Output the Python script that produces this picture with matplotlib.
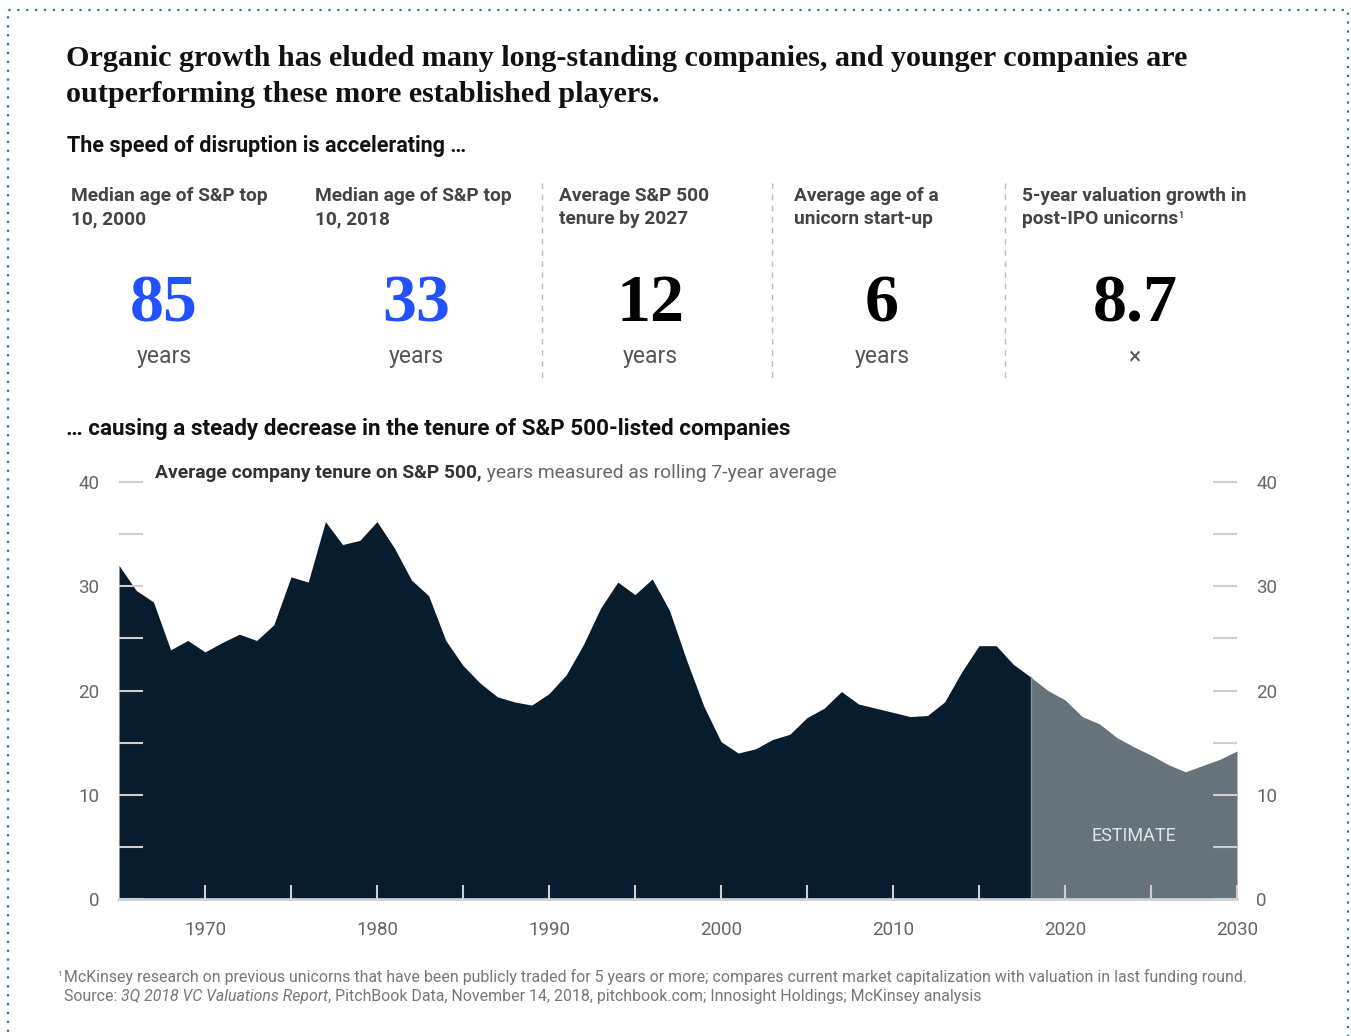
#!/usr/bin/env python3
"""McKinsey-style panel: speed of disruption stats + S&P 500 tenure area chart."""
import matplotlib
matplotlib.use("Agg")
import matplotlib.pyplot as plt
from matplotlib.patches import Rectangle

W, H = 1351, 1036

# --- data -----------------------------------------------------------------
years_hist = list(range(1965, 2019))
tenure_hist = [32.0, 29.6, 28.5, 23.9, 24.8, 23.7, 24.6, 25.4, 24.8, 26.3,
               30.9, 30.4, 36.2, 34.0, 34.4, 36.2, 33.7, 30.6, 29.1, 24.8,
               22.4, 20.7, 19.4, 18.9, 18.6, 19.7, 21.5, 24.4, 27.9, 30.4,
               29.2, 30.7, 27.7, 22.9, 18.5, 15.1, 14.0, 14.4, 15.3, 15.8,
               17.4, 18.3, 19.9, 18.7, 18.3, 17.9, 17.5, 17.6, 18.9, 21.8,
               24.3, 24.3, 22.5, 21.3]
years_est = list(range(2018, 2031))
tenure_est = [21.3, 20.0, 19.1, 17.5, 16.8, 15.5, 14.6, 13.8, 12.9, 12.2,
              12.8, 13.4, 14.2]

stat_headers = [("Median age of S&P top", "10, 2000"),
                ("Median age of S&P top", "10, 2018"),
                ("Average S&P 500", "tenure by 2027"),
                ("Average age of a", "unicorn start-up"),
                ("5-year valuation growth in", "post-IPO unicorns")]
stat_notes = ["", "", "", "", "1"]
stat_values = ["85", "33", "12", "6", "8.7"]
stat_units = ["years", "years", "years", "years", "\u00d7"]
stat_highlight = [True, True, False, False, False]

DARK = "#071c2c"
EST = "#67737b"
BLUE = "#2251ff"
GRID = "#cfcfcf"
SANS = ["Roboto", "DejaVu Sans"]
SERIF = ["Liberation Serif", "DejaVu Serif"]

plt.rcParams["font.family"] = SANS

fig = plt.figure(figsize=(W / 100, H / 100), dpi=100)


def px(x, y):
    return x / W, 1 - y / H


def chain(x, y, parts, **kw):
    """Write text pieces one after another on a baseline (pixel coords)."""
    r = fig.canvas.get_renderer()
    for s, style in parts:
        opts = dict(kw)
        opts.update(style)
        dy = opts.pop("dy", 0)
        t = fig.text(*px(x, y - dy), s, va="baseline", ha="left", **opts)
        x += t.get_window_extent(renderer=r).width


# dotted frame
fig.patches.append(Rectangle(px(8, 1060), (1348 - 8) / W, (1060 - 10) / H,
                             transform=fig.transFigure, fill=False,
                             ec="#1f77c4", lw=1.6, ls=(0, (1, 3))))

# headline
fig.text(*px(66, 66), "Organic growth has eluded many long-standing companies, "
         "and younger companies are", family=SERIF, fontsize=21.7, weight="bold",
         color="#111111", va="baseline")
fig.text(*px(66, 102), "outperforming these more established players.",
         family=SERIF, fontsize=21.7, weight="bold", color="#111111", va="baseline")

fig.text(*px(67, 152), "The speed of disruption is accelerating \u2026",
         fontsize=15.5, weight="bold", color="#111111", va="baseline")

# stat columns
col_x = [71, 315, 559, 794, 1022]
col_c = [164, 416, 650, 882, 1135]
for i, (hx, cx) in enumerate(zip(col_x, col_c)):
    l1, l2 = stat_headers[i]
    fig.text(*px(hx, 201), l1, fontsize=13.8, weight="bold", color="#444444",
             va="baseline")
    chain(hx, 224, [(l2, {}), (stat_notes[i], {"fontsize": 6.5, "dy": 6})],
          fontsize=13.8, weight="bold", color="#444444")
    fig.text(*px(cx, 321), stat_values[i], family=SERIF, fontsize=49,
             weight="bold", color=BLUE if stat_highlight[i] else "#000000",
             ha="center", va="baseline")
    fig.text(*px(cx, 357), stat_units[i], fontsize=16.5, color="#555555",
             ha="center", va="center")
for sx in (542, 772, 1005):
    fig.add_artist(plt.Line2D([sx / W, sx / W], [1 - 183 / H, 1 - 383 / H],
                              transform=fig.transFigure, color="#bbbbbb",
                              lw=1, ls=(0, (4, 4))))

fig.text(*px(66, 435), "\u2026 causing a steady decrease in the tenure of "
         "S&P 500-listed companies", fontsize=16.2, weight="bold",
         color="#111111", va="baseline")

# --- area chart -------------------------------------------------------------
ax = fig.add_axes([119 / W, 1 - 899 / H, (1237 - 119) / W, (899 - 482) / H])
ax.fill_between(years_hist, tenure_hist, 0, color=DARK, lw=0, zorder=1)
ax.fill_between(years_est, tenure_est, 0, color=EST, lw=0, zorder=1)
ax.plot([years_est[0]] * 2, [0, tenure_est[0]], color="#8a949a", lw=1, zorder=1.5)
ax.text(2024.0, 6.0, "ESTIMATE", color="#e2e5e7", fontsize=13, ha="center",
        va="center")

ax.set_xlim(1965, 2030)
ax.set_ylim(0, 40)
ax.set_xticks(range(1970, 2031, 10))
ax.set_xticks(range(1975, 2030, 10), minor=True)
ax.set_yticks(range(0, 41, 10))
ax.set_yticks(range(5, 40, 10), minor=True)
ax.tick_params(axis="y", which="both", direction="in", length=17, width=1.5,
               color=GRID, left=True, right=True, labelleft=True,
               labelright=True, labelsize=13.5, labelcolor="#666666", pad=14)
ax.tick_params(axis="x", which="both", direction="in", length=10, width=1.5,
               color=GRID, labelsize=13.5, labelcolor="#666666", pad=16)
for side in ("top", "left", "right"):
    ax.spines[side].set_visible(False)
ax.spines["bottom"].set_color(GRID)
ax.spines["bottom"].set_linewidth(2)
ax.set_facecolor("none")

chain(155, 478, [("Average company tenure on S&P 500,", {"weight": "bold", "color": "#333333"}),
                 (" years measured as rolling 7-year average", {"color": "#666666"})],
      fontsize=13.9)

# footnotes
fig.text(*px(57, 976), "1", fontsize=6, color="#777777", va="baseline")
fig.text(*px(64, 982), "McKinsey research on previous unicorns that have been publicly "
         "traded for 5 years or more; compares current market capitalization with "
         "valuation in last funding round.", fontsize=11.4,
         color="#777777", va="baseline")
chain(64, 1001, [("Source: ", {}), ("3Q 2018 VC Valuations Report", {"style": "italic"}),
                 (", PitchBook Data, November 14, 2018, pitchbook.com; Innosight "
                  "Holdings; McKinsey analysis", {})],
      fontsize=11.4, color="#777777")

fig.savefig("out.png", dpi=100)
